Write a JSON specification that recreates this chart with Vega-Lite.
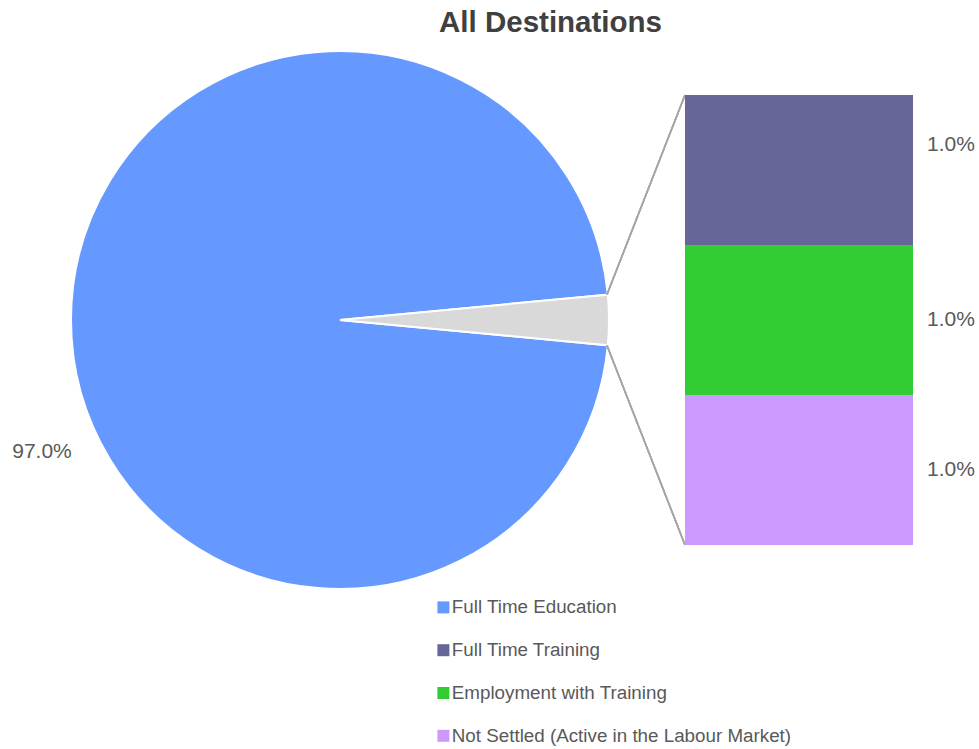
{
  "$schema": "https://vega.github.io/schema/vega-lite/v6.json",
  "autosize": {"type": "none"},
  "padding": {"top": 45, "left": 0, "right": 0, "bottom": 0},
  "width": 979,
  "height": 704,
  "title": {
    "text": "All Destinations",
    "fontSize": 29.5,
    "fontWeight": "bold",
    "color": "#404040",
    "font": "Liberation Sans",
    "anchor": "middle",
    "dx": 61,
    "offset": 7
  },
  "config": {
    "view": {"stroke": null},
    "font": "Liberation Sans"
  },
  "data": {
    "values": [
      {"category": "Full Time Education", "group": "Full Time Education", "idx": 1, "pct": 0.97},
      {"category": "Full Time Training", "group": "Other", "idx": 2, "pct": 0.01},
      {"category": "Employment with Training", "group": "Other", "idx": 3, "pct": 0.01},
      {"category": "Not Settled (Active in the Labour Market)", "group": "Other", "idx": 4, "pct": 0.01}
    ]
  },
  "resolve": {"scale": {"color": "shared"}},
  "layer": [
    {
      "transform": [
        {"aggregate": [{"op": "sum", "field": "pct", "as": "pct"}], "groupby": ["group"]}
      ],
      "mark": {"type": "arc", "radius": 269, "stroke": "white", "strokeWidth": 2},
      "encoding": {
        "x": {"datum": 3.4, "type": "quantitative", "scale": {"domain": [0, 9.79], "nice": false, "zero": false}, "axis": null},
        "y": {"datum": 0.015, "type": "quantitative", "scale": {"domain": [-0.0136, 0.033333], "nice": false, "zero": false}, "axis": null},
        "theta": {"field": "pct", "type": "quantitative", "stack": true, "scale": {"range": [1.4765, 7.7597]}},
        "order": {"field": "group", "sort": "descending"},
        "color": {
          "field": "group",
          "type": "nominal",
          "scale": {
            "domain": ["Full Time Education", "Full Time Training", "Employment with Training", "Not Settled (Active in the Labour Market)", "Other"],
            "range": ["#6699ff", "#666699", "#33cc33", "#cc99ff", "#d9d9d9"]
          },
          "legend": {
            "title": null,
            "values": ["Full Time Education", "Full Time Training", "Employment with Training", "Not Settled (Active in the Labour Market)"],
            "orient": "none",
            "legendX": 434,
            "legendY": 553,
            "direction": "vertical",
            "symbolType": "square",
            "symbolSize": 144,
            "symbolStrokeWidth": 0,
            "labelFontSize": 18.8,
            "labelColor": "#595959",
            "labelFont": "Liberation Sans",
            "labelOffset": -1,
            "labelLimit": 500,
            "rowPadding": 22.8
          }
        }
      }
    },
    {
      "mark": {"type": "rule", "color": "#a6a6a6", "strokeWidth": 1.5},
      "encoding": {
        "x": {"datum": 6.07, "type": "quantitative"},
        "x2": {"datum": 6.85},
        "y": {"datum": 0.0167, "type": "quantitative"},
        "y2": {"datum": 0.03}
      }
    },
    {
      "mark": {"type": "rule", "color": "#a6a6a6", "strokeWidth": 1.5},
      "encoding": {
        "x": {"datum": 6.07, "type": "quantitative"},
        "x2": {"datum": 6.85},
        "y": {"datum": 0.0133, "type": "quantitative"},
        "y2": {"datum": 0}
      }
    },
    {
      "transform": [
        {"filter": "datum.group === 'Other'"},
        {"stack": "pct", "groupby": [], "sort": [{"field": "idx", "order": "descending"}], "as": ["y0", "y1"]}
      ],
      "mark": {"type": "rect"},
      "encoding": {
        "x": {"datum": 6.85, "type": "quantitative"},
        "x2": {"datum": 9.13},
        "y": {"field": "y0", "type": "quantitative"},
        "y2": {"field": "y1"},
        "color": {"field": "category", "type": "nominal", "legend": null}
      }
    },
    {
      "transform": [
        {"filter": "datum.group === 'Other'"},
        {"stack": "pct", "groupby": [], "sort": [{"field": "idx", "order": "descending"}], "as": ["y0", "y1"]},
        {"filter": "datum.category !== 'Full Time Training'"}
      ],
      "mark": {"type": "text", "fontSize": 21, "color": "#595959", "align": "center", "baseline": "middle", "dy": -75},
      "encoding": {
        "x": {"datum": 9.51, "type": "quantitative"},
        "y": {"field": "y0", "type": "quantitative"},
        "text": {"field": "pct", "type": "quantitative", "format": ".1%"}
      }
    },
    {
      "transform": [
        {"filter": "datum.group === 'Other'"},
        {"stack": "pct", "groupby": [], "sort": [{"field": "idx", "order": "descending"}], "as": ["y0", "y1"]},
        {"filter": "datum.category === 'Full Time Training'"}
      ],
      "mark": {"type": "text", "fontSize": 21, "color": "#595959", "align": "center", "baseline": "middle", "dy": -100},
      "encoding": {
        "x": {"datum": 9.51, "type": "quantitative"},
        "y": {"field": "y0", "type": "quantitative"},
        "text": {"field": "pct", "type": "quantitative", "format": ".1%"}
      }
    },
    {
      "transform": [{"filter": "datum.category === 'Full Time Education'"}],
      "mark": {"type": "text", "fontSize": 21, "color": "#595959", "align": "center", "baseline": "middle"},
      "encoding": {
        "x": {"datum": 0.42, "type": "quantitative"},
        "y": {"datum": 0.0062, "type": "quantitative"},
        "text": {"field": "pct", "type": "quantitative", "format": ".1%"}
      }
    }
  ]
}
